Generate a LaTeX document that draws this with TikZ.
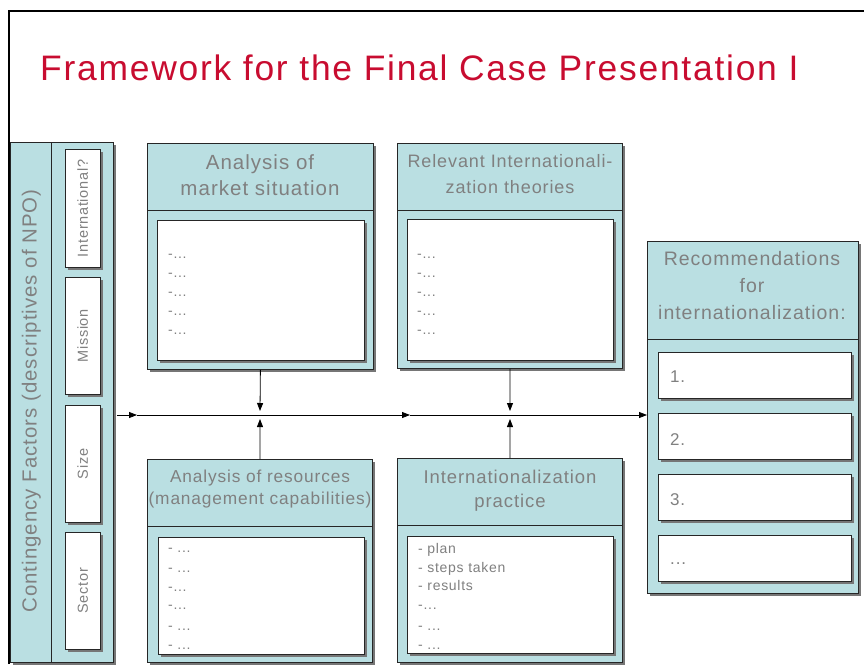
\documentclass[tikz,border=0pt]{standalone}
\usepackage{fontspec}
\setmainfont{Liberation Sans}[LetterSpace=5]
\usetikzlibrary{arrows.meta,shadows,calc}
\definecolor{panel}{RGB}{186,223,226}
\definecolor{titlered}{RGB}{200,12,48}
\definecolor{labelgray}{RGB}{128,128,128}
\definecolor{shade}{RGB}{118,118,118}
\newcommand\itemdots{...}
\tikzset{
  shadowed/.style={drop shadow={shadow xshift=3pt,shadow yshift=-3pt,fill=shade,opacity=1}},
  panelbox/.style={draw=black!85,line width=0.8pt,fill=panel,shadowed,rectangle,inner sep=0pt,anchor=north west},
  whitebox/.style={draw=black!85,line width=0.8pt,fill=white,shadowed,rectangle,inner sep=0pt,anchor=north west},
  divider/.style={draw=black!85,line width=0.8pt},
  headline/.style={text=labelgray,inner sep=0pt,anchor=base},
  itemtext/.style={text=labelgray,inner sep=0pt,anchor=base west,font=\fontsize{14}{16}\selectfont},
  sidelabel/.style={text=labelgray,inner sep=0pt,anchor=base,rotate=90,font=\fontsize{14.5}{16}\selectfont},
  flow/.style={draw=black,line width=0.8pt,-{Triangle[length=8pt,width=6pt]}},
}
\begin{document}
\begin{tikzpicture}[x=1pt,y=-1pt]
\useasboundingbox (0,0) rectangle (864,664);

% slide frame
\draw[line width=2.2pt] (9,664) -- (9,11) -- (864,11);

% title
\node[anchor=base west,inner sep=0pt,text=titlered,font=\fontsize{35.4}{40}\selectfont] (title) at (40,80)
  {Framework for the Final Case Presentation I};

% ---------- contingency factors column ----------
\node[panelbox,minimum width=103pt,minimum height=520pt] (factors) at (10,142) {};
\draw[divider] ([xshift=41pt]factors.north west) -- ([xshift=41pt]factors.south west);
\node[headline,rotate=90,font=\fontsize{20.4}{24}\selectfont] (factorsTitle) at (36.5,401)
  {Contingency Factors (descriptives of NPO)};

\node[whitebox,minimum width=35pt,minimum height=118pt] (intl) at (65,149) {};
\node[whitebox,minimum width=35pt,minimum height=117pt] (mission) at (65,277) {};
\node[whitebox,minimum width=35pt,minimum height=117pt] (size) at (65,405) {};
\node[whitebox,minimum width=35pt,minimum height=117pt] (sector) at (65,532) {};
\node[sidelabel] (intlText) at ([xshift=5pt]intl.center) {International?};
\node[sidelabel] (missionText) at ([xshift=5pt]mission.center) {Mission};
\node[sidelabel] (sizeText) at ([xshift=5pt]size.center) {Size};
\node[sidelabel] (sectorText) at ([xshift=5pt]sector.center) {Sector};

% ---------- market situation ----------
\node[panelbox,minimum width=226pt,minimum height=226pt] (market) at (147,143) {};
\draw[divider] ($(market.north west)+(0,67)$) -- ($(market.north east)+(0,67)$);
\node[whitebox,minimum width=207pt,minimum height=140pt] (marketList) at (157,220) {};
\node[headline,font=\fontsize{20.5}{24}\selectfont] (marketH1) at (260,169) {Analysis of};
\node[headline,font=\fontsize{20.5}{24}\selectfont] (marketH2) at (260,195) {market situation};
\foreach \y [count=\i] in {258,277,296,315,334}
  \node[itemtext] (marketItem\i) at (168,\y) {-\itemdots};

% ---------- theories ----------
\node[panelbox,minimum width=225pt,minimum height=225pt] (theory) at (397,143) {};
\draw[divider] ($(theory.north west)+(0,67)$) -- ($(theory.north east)+(0,67)$);
\node[whitebox,minimum width=206pt,minimum height=141pt] (theoryList) at (407,219) {};
\node[headline,font=\fontsize{18}{22}\selectfont] (theoryH1) at (510,167) {Relevant Internationali-};
\node[headline,font=\fontsize{18}{22}\selectfont] (theoryH2) at (510,193) {zation theories};
\foreach \y [count=\i] in {258,277,296,315,334}
  \node[itemtext] (theoryItem\i) at (417,\y) {-\itemdots};

% ---------- resources ----------
\node[panelbox,minimum width=225pt,minimum height=203pt] (resources) at (147,459) {};
\draw[divider] ($(resources.north west)+(0,67)$) -- ($(resources.north east)+(0,67)$);
\node[whitebox,minimum width=206pt,minimum height=117pt] (resourcesList) at (158,537) {};
\node[headline,font=\fontsize{17.3}{22}\selectfont] (resourcesH1) at (260,482) {Analysis of resources};
\node[headline,font=\fontsize{17.3}{22}\selectfont] (resourcesH2) at (260,504) {(management capabilities)};
\foreach \y/\t [count=\i] in {552/{- \itemdots},572/{- \itemdots},591/{-\itemdots},609/{-\itemdots},630/{- \itemdots},649/{- \itemdots}}
  \node[itemtext] (resourcesItem\i) at (168,\y) {\t};

% ---------- practice ----------
\node[panelbox,minimum width=225pt,minimum height=204pt] (practice) at (397,458) {};
\draw[divider] ($(practice.north west)+(0,67)$) -- ($(practice.north east)+(0,67)$);
\node[whitebox,minimum width=206pt,minimum height=117pt] (practiceList) at (407,536) {};
\node[headline,font=\fontsize{18.5}{22}\selectfont] (practiceH1) at (510,483) {Internationalization};
\node[headline,font=\fontsize{18.5}{22}\selectfont] (practiceH2) at (510,507) {practice};
\foreach \y/\t [count=\i] in {553/{- plan},572/{- steps taken},590/{- results},609/{-\itemdots},630/{- \itemdots},649/{- \itemdots}}
  \node[itemtext] (practiceItem\i) at (418,\y) {\t};

% ---------- recommendations ----------
\node[panelbox,minimum width=211pt,minimum height=352pt] (recs) at (647,241) {};
\draw[divider] ($(recs.north west)+(0,98)$) -- ($(recs.north east)+(0,98)$);
\node[headline,font=\fontsize{19.5}{24}\selectfont] (recsH1) at (752,265) {Recommendations};
\node[headline,font=\fontsize{19.5}{24}\selectfont] (recsH2) at (752,292) {for};
\node[headline,font=\fontsize{19.5}{24}\selectfont] (recsH3) at (752,319) {internationalization:};
\foreach \y/\b/\t [count=\i] in {352/382/{1.},413/445/{2.},474/505/{3.},535/564/{\itemdots}}{
  \node[whitebox,minimum width=193pt,minimum height=46pt] (rec\i) at (658,\y) {};
  \node[itemtext,font=\fontsize{17}{20}\selectfont] (recText\i) at (670,\b) {\t};
}

% ---------- connectors ----------
\coordinate (joinA) at (260,415);
\coordinate (joinB) at (510,415);
\coordinate (startTip) at (137,415);
\coordinate (midTip) at (410,415);
\draw[flow] ([xshift=3pt]factors.east |- joinA) -- (startTip);
\draw[flow] (startTip) -- (midTip);
\draw[flow] (midTip) -- (recs.west |- joinB);
\draw[flow] (market.south) -- ([yshift=4pt]joinA);
\draw[flow] (resources.north) -- ([yshift=-4pt]joinA);
\draw[flow] (theory.south) -- ([yshift=4pt]joinB);
\draw[flow] (practice.north) -- ([yshift=-4pt]joinB);
\end{tikzpicture}
\end{document}
